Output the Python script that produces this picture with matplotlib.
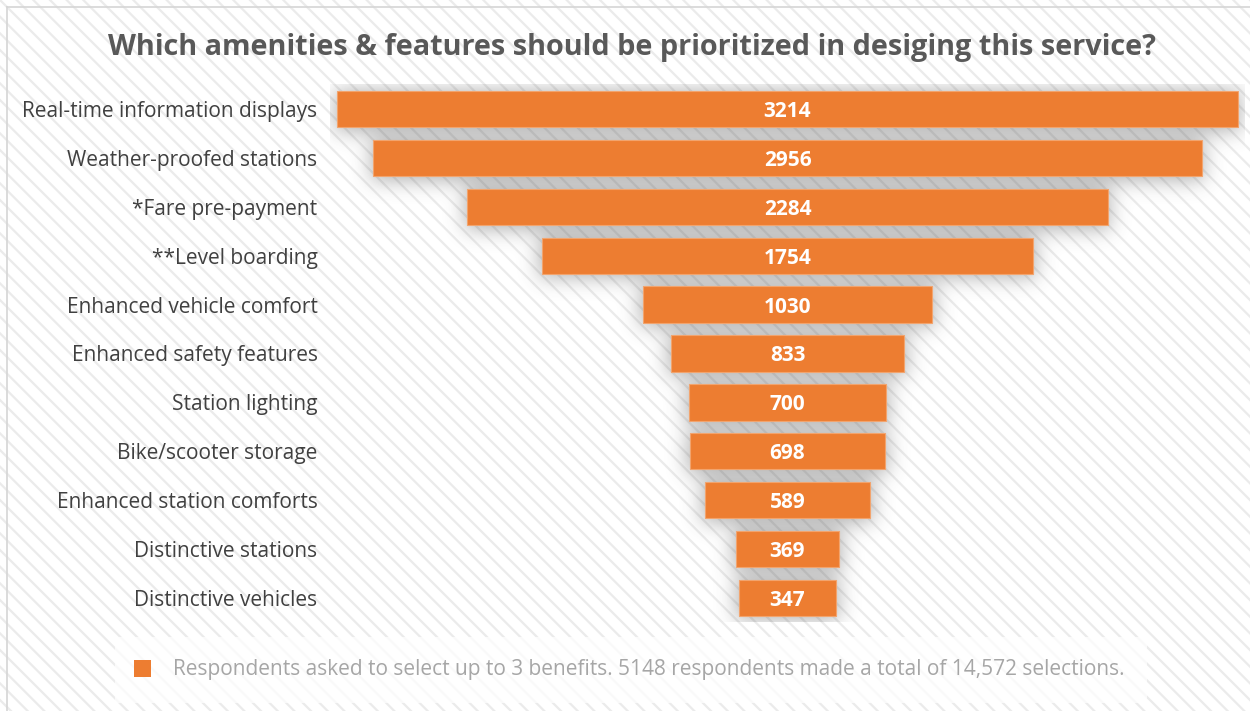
import numpy as np
import matplotlib
matplotlib.use("Agg")
import matplotlib.pyplot as plt
from matplotlib.patches import Rectangle

categories = ["Real-time information displays", "Weather-proofed stations", "*Fare pre-payment",
              "**Level boarding", "Enhanced vehicle comfort", "Enhanced safety features",
              "Station lighting", "Bike/scooter storage", "Enhanced station comforts",
              "Distinctive stations", "Distinctive vehicles"]
values = [3214, 2956, 2284, 1754, 1030, 833, 700, 698, 589, 369, 347]
title = "Which amenities & features should be prioritized in desiging this service?"
legend_text = "Respondents asked to select up to 3 benefits. 5148 respondents made a total of 14,572 selections."

ORANGE = "#ED7D31"
W, H = 1250, 711
plt.rcParams['font.family'] = ['Open Sans', 'DejaVu Sans']
plt.rcParams['hatch.linewidth'] = 1.6

fig = plt.figure(figsize=(W / 100, H / 100), dpi=100)
fig.patch.set_facecolor("white")

# hatched background
bg = Rectangle((0, 0), 1, 1, transform=fig.transFigure, facecolor="white",
               edgecolor="#ebebeb", hatch="\\\\", lw=0, zorder=-10)
fig.add_artist(bg)
# top / left border
fig.add_artist(plt.Line2D([7 / W, 1], [1 - 7 / H, 1 - 7 / H], transform=fig.transFigure,
                          color="#d6d6d6", lw=1.2))
fig.add_artist(plt.Line2D([7 / W, 7 / W], [0, 1 - 7 / H], transform=fig.transFigure,
                          color="#d6d6d6", lw=1.2))

# axes
left, right, top, bottom = 330, 1245, 84.5, 622.5
ax = fig.add_axes([left / W, 1 - bottom / H, (right - left) / W, (bottom - top) / H])
ax.set_facecolor("none")
vals = np.array(values, dtype=float)
n = len(vals)
ypos = np.arange(n)
xhalf = 1632
ax.set_xlim(-xhalf, xhalf)
ax.set_ylim(n - 0.5, -0.5)
bar_h = 0.74

# soft shadow image derived from bars
nx, ny = int(right - left), int(bottom - top)
xs = np.linspace(-xhalf, xhalf, nx)
ys = np.linspace(-0.5, n - 0.5, ny)
X, Y = np.meshgrid(xs, ys)
px_x = 2 * xhalf / nx
px_y = n / ny
mask = np.zeros_like(X)
for i, v in enumerate(vals):
    m = (np.abs(X) <= v / 2 + 3 * px_x) & (np.abs(Y - i - 2 * px_y) <= bar_h / 2 + 3 * px_y)
    mask[m] = 1.0
sigma = 10
k = np.arange(-3 * sigma, 3 * sigma + 1)
kern = np.exp(-k ** 2 / (2 * sigma ** 2))
kern /= kern.sum()
pad = 3 * sigma
mp = np.pad(mask, pad)
mp = np.apply_along_axis(lambda r: np.convolve(r, kern, mode="same"), 1, mp)
mp = np.apply_along_axis(lambda c: np.convolve(c, kern, mode="same"), 0, mp)
blur = mp[pad:-pad, pad:-pad]
rgba = np.zeros((ny, nx, 4))
rgba[..., :3] = 0.3
rgba[..., 3] = 0.42 * blur
ax.imshow(rgba, extent=(-xhalf, xhalf, n - 0.5, -0.5), aspect="auto", zorder=1,
          interpolation="bilinear")

ax.barh(ypos, vals, left=-vals / 2, height=bar_h, color=ORANGE, edgecolor="#f2a46e",
        linewidth=0.8, zorder=3)
for i, v in enumerate(values):
    ax.text(0, i, str(v), ha="center", va="center_baseline", color="white", fontsize=15,
            fontweight="bold", zorder=4)

ax.set_yticks(ypos)
ax.set_yticklabels(categories, fontsize=15, color="#404040")
ax.tick_params(axis="y", length=0, pad=9)
ax.set_xticks([])
for s in ax.spines.values():
    s.set_visible(False)

fig.text(632 / W, 1 - 47 / H, title, ha="center", va="center", fontsize=20.8,
         fontweight="bold", color="#595959")

# legend box
fig.add_artist(Rectangle((115 / W, 1 - 703 / H), (1147 - 115) / W, (703 - 637) / H,
                         transform=fig.transFigure, facecolor="white", alpha=0.75,
                         lw=0, zorder=2))
fig.add_artist(Rectangle((134 / W, 1 - 677 / H), 17 / W, 17 / H, transform=fig.transFigure,
                         facecolor=ORANGE, lw=0, zorder=3))
fig.text(173 / W, 1 - 669 / H, legend_text, ha="left", va="center", fontsize=15,
         color="#a6a6a6", zorder=4)

fig.savefig("out.png", dpi=100)
